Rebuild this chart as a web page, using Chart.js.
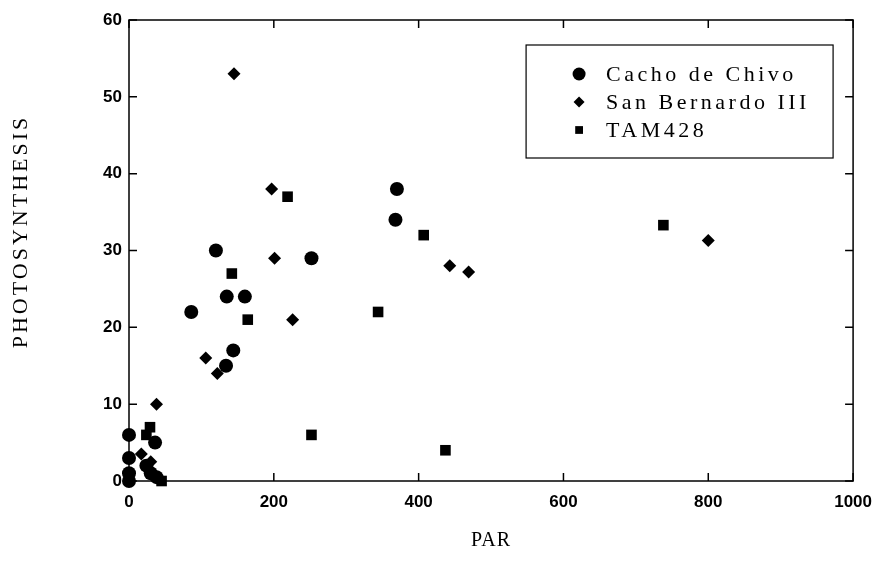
<!DOCTYPE html>
<html>
<head>
<meta charset="utf-8">
<script src="https://cdn.jsdelivr.net/npm/chart.js@4.4.1/dist/chart.umd.min.js"></script>
<style>
  html, body { margin: 0; padding: 0; background: #fff; }
  #wrap { width: 883px; height: 570px; }
</style>
</head>
<body>
<div id="wrap"><canvas id="psChart"></canvas></div>
<script>
// PAR vs photosynthesis, one series per cultivar
var cachoPar = [0, 0, 0, 0, 24, 30, 36, 38, 86, 120, 134, 135, 144, 160, 252, 368, 370];
var cachoPs  = [6, 3, 1, 0, 2, 1, 5, 0.5, 22, 30, 15, 24, 17, 24, 29, 34, 38];

var bernardoPar = [17, 30, 33, 38, 106, 122, 145, 197, 201, 226, 443, 469, 800];
var bernardoPs  = [3.5, 2.5, 1, 10, 16, 14, 53, 38, 29, 21, 28, 27.2, 31.3];

var tamPar = [24, 29, 45, 142, 164, 219, 252, 344, 407, 437, 738];
var tamPs  = [6, 7, 0, 27, 21, 37, 6, 22, 32, 4, 33.3];

var seriesNames = ['Cacho de Chivo', 'San Bernardo III', 'TAM428'];
var xTicks = [0, 200, 400, 600, 800, 1000];
var yTicks = [0, 10, 20, 30, 40, 50, 60];

function toPoints(xs, ys) {
    return xs.map(function (x, i) { return { x: x, y: ys[i] }; });
}

var tickFont = { family: 'Liberation Sans', size: 17, weight: 'bold' };

// box around the plot with ticks pointing inward on all four sides
var frame = {
    id: 'frame',
    beforeDatasetsDraw: function (chart) {
        var ctx = chart.ctx, a = chart.chartArea;
        var x = chart.scales.x, y = chart.scales.y;
        ctx.save();
        ctx.strokeStyle = '#000';
        ctx.lineWidth = 1.5;
        ctx.strokeRect(a.left, a.top, a.right - a.left, a.bottom - a.top);
        ctx.beginPath();
        x.ticks.forEach(function (t) {
            var px = x.getPixelForValue(t.value);
            ctx.moveTo(px, a.bottom); ctx.lineTo(px, a.bottom - 8);
            ctx.moveTo(px, a.top); ctx.lineTo(px, a.top + 8);
        });
        y.ticks.forEach(function (t) {
            var py = y.getPixelForValue(t.value);
            ctx.moveTo(a.left, py); ctx.lineTo(a.left + 8, py);
            ctx.moveTo(a.right, py); ctx.lineTo(a.right - 8, py);
        });
        ctx.stroke();
        ctx.restore();
    }
};

// axis titles and the boxed legend in the upper right
var labels = {
    id: 'labels',
    afterDraw: function (chart) {
        var ctx = chart.ctx, a = chart.chartArea;
        ctx.save();
        ctx.fillStyle = '#000';
        ctx.textAlign = 'center';
        ctx.textBaseline = 'middle';

        ctx.font = '22px "Liberation Serif"';
        ctx.letterSpacing = '3px';
        ctx.save();
        ctx.translate(a.left - 108, (a.top + a.bottom) / 2 - 19);
        ctx.rotate(-Math.PI / 2);
        ctx.fillText('PHOTOSYNTHESIS', 0, 0);
        ctx.restore();

        ctx.font = '20px "Liberation Serif"';
        ctx.letterSpacing = '1px';
        ctx.fillText('PAR', (a.left + a.right) / 2, a.bottom + 60);

        // legend
        var bx = a.right - 327, by = a.top + 25, bw = 307, bh = 113;
        ctx.lineWidth = 1.2;
        ctx.strokeStyle = '#000';
        ctx.strokeRect(bx, by, bw, bh);
        ctx.font = '22px "Liberation Serif"';
        ctx.letterSpacing = '3.5px';
        ctx.textAlign = 'left';
        chart.data.datasets.forEach(function (ds, i) {
            var ry = by + 29 + i * 28;
            Chart.helpers.drawPoint(ctx, {
                pointStyle: ds.pointStyle,
                radius: ds.pointStyle === 'circle' ? 6.5 : 5.5,
                rotation: 0,
                borderWidth: 0
            }, bx + 53, ry);
            ctx.fillText(ds.label, bx + 80, ry + 1);
        });
        ctx.restore();
    }
};

new Chart(document.getElementById('psChart'), {
    type: 'scatter',
    data: {
        datasets: [
            {
                label: seriesNames[0],
                data: toPoints(cachoPar, cachoPs),
                pointStyle: 'circle',
                pointRadius: 7,
                backgroundColor: '#000',
                borderColor: '#000',
                borderWidth: 0,
                clip: false
            },
            {
                label: seriesNames[1],
                data: toPoints(bernardoPar, bernardoPs),
                pointStyle: 'rectRot',
                pointRadius: 6.5,
                backgroundColor: '#000',
                borderColor: '#000',
                borderWidth: 0,
                clip: false
            },
            {
                label: seriesNames[2],
                data: toPoints(tamPar, tamPs),
                pointStyle: 'rect',
                pointRadius: 7.5,
                backgroundColor: '#000',
                borderColor: '#000',
                borderWidth: 0,
                clip: false
            }
        ]
    },
    options: {
        responsive: true,
        maintainAspectRatio: false,
        animation: false,
        layout: { padding: { top: 20, right: 28, left: 0, bottom: 0 } },
        plugins: {
            legend: { display: false },
            tooltip: { enabled: false }
        },
        scales: {
            x: {
                type: 'linear',
                min: 0,
                max: 1000,
                afterBuildTicks: function (scale) {
                    scale.ticks = xTicks.map(function (v) { return { value: v }; });
                },
                afterFit: function (scale) { scale.height = 89; },
                grid: { display: false, drawTicks: false },
                border: { display: false },
                ticks: {
                    color: '#000',
                    font: tickFont,
                    padding: 11,
                    maxRotation: 0,
                    callback: function (v) { return String(v); }
                }
            },
            y: {
                type: 'linear',
                min: 0,
                max: 60,
                afterBuildTicks: function (scale) {
                    scale.ticks = yTicks.map(function (v) { return { value: v }; });
                },
                afterFit: function (scale) { scale.width = 129; },
                grid: { display: false, drawTicks: false },
                border: { display: false },
                ticks: { color: '#000', font: tickFont, padding: 7 }
            }
        }
    },
    plugins: [frame, labels]
});
</script>
</body>
</html>
